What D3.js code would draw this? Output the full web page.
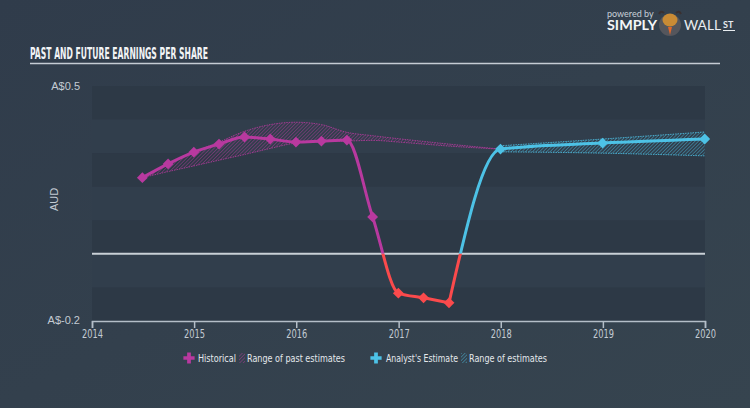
<!DOCTYPE html>
<html>
<head>
<meta charset="utf-8">
<script src="https://cdn.jsdelivr.net/npm/d3@7"></script>
<style>
  html, body { margin: 0; padding: 0; background: #333f4e; }
  svg { display: block; }
</style>
</head>
<body>
<div id="chart"></div>
<script>
// Data
const histDates = ["2014-06-30", "2014-09-30", "2014-12-31", "2015-03-31", "2015-06-30", "2015-09-30",
  "2015-12-31", "2016-03-31", "2016-06-30", "2016-09-30", "2016-12-31", "2017-03-31", "2017-06-30"];
const histEPS = [0.227, 0.268, 0.303, 0.327, 0.348, 0.342, 0.333, 0.336, 0.339, 0.110, -0.117, -0.131, -0.146];

const pastRangeDates = histDates.concat(["2017-12-31"]);
const pastLow = [0.227, 0.245, 0.262, 0.279, 0.296, 0.314, 0.330, 0.334, 0.336, 0.338, 0.333, 0.327, 0.321, 0.312];
const pastHigh = [0.227, 0.268, 0.303, 0.333, 0.365, 0.385, 0.392, 0.385, 0.362, 0.352, 0.343, 0.335, 0.327, 0.312];

const forecastDates = ["2017-12-31", "2018-12-31", "2019-12-31"];
const forecastEPS = [0.312, 0.330, 0.342];
const futureLow = [0.304, 0.300, 0.292];
const futureHigh = [0.322, 0.342, 0.363];

const yearTicks = [2014, 2015, 2016, 2017, 2018, 2019, 2020];
const bandSteps = [0.5, 0.4, 0.3, 0.2, 0.1, 0.0, -0.1];

const W = 750, H = 408;
const margin = { top: 86, right: 45, bottom: 87, left: 92 };
const width = W - margin.left - margin.right;
const height = H - margin.top - margin.bottom;

const parse = d3.timeParse("%Y-%m-%d");
const narrow = "'DejaVu Sans Condensed', 'Liberation Sans', sans-serif";

const magenta = "#b8399f", red = "#fb4a4c", blue = "#4dc2e6";

const svg = d3.select("#chart").append("svg")
  .attr("width", W).attr("height", H);

// background
const defs = svg.append("defs");
const bg = defs.append("linearGradient").attr("id", "bg")
  .attr("x1", "0").attr("y1", "0").attr("x2", "1").attr("y2", "1");
bg.append("stop").attr("offset", "0").attr("stop-color", "#303c4b");
bg.append("stop").attr("offset", "1").attr("stop-color", "#36444f");
svg.append("rect").attr("width", W).attr("height", H).attr("fill", "url(#bg)");

// hatch patterns
function hatch(id, color) {
  const p = defs.append("pattern").attr("id", id)
    .attr("patternUnits", "userSpaceOnUse")
    .attr("width", 2.5).attr("height", 2.5)
    .attr("patternTransform", "rotate(45)");
  p.append("line").attr("x1", 0).attr("y1", 0).attr("x2", 0).attr("y2", 2.5)
    .attr("stroke", color).attr("stroke-width", 1).attr("stroke-opacity", 0.8);
}
hatch("hatchPast", magenta);
hatch("hatchFuture", blue);

// title
svg.append("text")
  .attr("x", 30).attr("y", 59)
  .attr("textLength", 178).attr("lengthAdjust", "spacingAndGlyphs")
  .style("font-family", narrow).style("font-weight", "bold")
  .style("font-size", "16px").attr("fill", "#f2f4f6")
  .text("PAST AND FUTURE EARNINGS PER SHARE");
svg.append("line")
  .attr("x1", 30).attr("x2", 720).attr("y1", 63.5).attr("y2", 63.5)
  .attr("stroke", "#c5ccd4").attr("stroke-width", 1.5);

// logo
const logo = svg.append("g");
logo.append("text").attr("x", 607).attr("y", 17)
  .style("font-family", "Lato, sans-serif").style("font-size", "9px")
  .attr("fill", "#c8d0d8").text("powered by");
logo.append("text").attr("x", 607).attr("y", 30)
  .attr("textLength", 50).attr("lengthAdjust", "spacingAndGlyphs")
  .style("font-family", "Lato, sans-serif").style("font-size", "12.5px").style("font-weight", "bold")
  .attr("fill", "#f4f6f8").text("SIMPLY");
logo.append("circle").attr("cx", 670).attr("cy", 25).attr("r", 11).attr("fill", "#55565c");
logo.append("path").attr("d", "M659,14 Q661,10 664,13 M681,14 Q679,10 676,13")
  .attr("stroke", "#3a3030").attr("stroke-width", 2).attr("fill", "none");
logo.append("ellipse").attr("cx", 670).attr("cy", 20).attr("rx", 7.5).attr("ry", 6.5).attr("fill", "#c98b35");
logo.append("path").attr("d", "M668,27 L670,35 L672,27 Z").attr("fill", "#e0672a");
logo.append("text").attr("x", 684).attr("y", 30)
  .attr("textLength", 37).attr("lengthAdjust", "spacingAndGlyphs")
  .style("font-family", "Lato, sans-serif").style("font-size", "12.5px")
  .attr("fill", "#e8ecf0").text("WALL");
logo.append("text").attr("x", 723).attr("y", 28)
  .style("font-family", "Lato, sans-serif").style("font-size", "9px").style("font-weight", "bold")
  .attr("fill", "#e8ecf0").text("ST");
logo.append("line").attr("x1", 723).attr("x2", 735).attr("y1", 30.5).attr("y2", 30.5)
  .attr("stroke", "#e8ecf0").attr("stroke-width", 1);

const g = svg.append("g").attr("transform", `translate(${margin.left},${margin.top})`);

const x = d3.scaleTime()
  .domain([new Date(2014, 0, 1), new Date(2020, 0, 1)])
  .range([0, width]);
const y = d3.scaleLinear().domain([-0.2, 0.5]).range([height, 0]);

// bands
g.selectAll("rect.band")
  .data(bandSteps)
  .enter().append("rect")
    .attr("class", "band")
    .attr("x", 0).attr("width", width)
    .attr("y", d => y(d))
    .attr("height", d => y(d - 0.1) - y(d))
    .attr("fill", (d, i) => i % 2 === 0 ? "#2d3946" : "#313e4c");

// zero line
g.append("line")
  .attr("x1", 0).attr("x2", width)
  .attr("y1", y(0)).attr("y2", y(0))
  .attr("stroke", "#c9d0d6").attr("stroke-width", 2);

// clip regions above / below zero
defs.append("clipPath").attr("id", "above")
  .append("rect").attr("x", -10).attr("y", -30).attr("width", width + 20).attr("height", y(0) + 30);
defs.append("clipPath").attr("id", "below")
  .append("rect").attr("x", -10).attr("y", y(0)).attr("width", width + 20).attr("height", height - y(0) + 10);

// ranges
const pastRange = pastRangeDates.map((d, i) => ({ date: parse(d), lo: pastLow[i], hi: pastHigh[i] }));
const futureRange = forecastDates.map((d, i) => ({ date: parse(d), lo: futureLow[i], hi: futureHigh[i] }));

const area = d3.area()
  .x(d => x(d.date)).y0(d => y(d.lo)).y1(d => y(d.hi))
  .curve(d3.curveMonotoneX);
const edgeLo = d3.line().x(d => x(d.date)).y(d => y(d.lo)).curve(d3.curveMonotoneX);
const edgeHi = d3.line().x(d => x(d.date)).y(d => y(d.hi)).curve(d3.curveMonotoneX);

[[pastRange, "hatchPast", magenta], [futureRange, "hatchFuture", blue]].forEach(([data, pat, col]) => {
  g.append("path").datum(data).attr("d", area).attr("fill", `url(#${pat})`);
  [edgeLo, edgeHi].forEach(fn => {
    g.append("path").datum(data).attr("d", fn)
      .attr("fill", "none").attr("stroke", col)
      .attr("stroke-width", 1).attr("stroke-dasharray", "1.5,1").attr("stroke-opacity", 0.8);
  });
});

// lines
const hist = histDates.map((d, i) => ({ date: parse(d), v: histEPS[i] }));
const fc = [hist[hist.length - 1]].concat(forecastDates.map((d, i) => ({ date: parse(d), v: forecastEPS[i] })));

const line = d3.line().x(d => x(d.date)).y(d => y(d.v)).curve(d3.curveMonotoneX);

function drawLine(data, colAbove) {
  g.append("path").datum(data).attr("d", line)
    .attr("fill", "none").attr("stroke", colAbove).attr("stroke-width", 3)
    .attr("clip-path", "url(#above)");
  g.append("path").datum(data).attr("d", line)
    .attr("fill", "none").attr("stroke", red).attr("stroke-width", 3)
    .attr("clip-path", "url(#below)");
}
drawLine(hist, magenta);
drawLine(fc, blue);

const diamond = d3.symbol().type(d3.symbolDiamond2).size(75);
g.selectAll("path.hpt")
  .data(hist)
  .enter().append("path")
    .attr("class", "hpt")
    .attr("d", diamond)
    .attr("transform", d => `translate(${x(d.date)},${y(d.v)})`)
    .attr("fill", d => d.v < 0 ? red : magenta);
g.selectAll("path.fpt")
  .data(fc.slice(1))
  .enter().append("path")
    .attr("class", "fpt")
    .attr("d", diamond)
    .attr("transform", d => `translate(${x(d.date)},${y(d.v)})`)
    .attr("fill", blue);

// x-axis
const xAxis = g.append("g")
  .attr("transform", `translate(0,${height})`)
  .call(d3.axisBottom(x)
    .tickValues(yearTicks.map(t => new Date(t, 0, 1)))
    .tickFormat(d3.timeFormat("%Y"))
    .tickSize(7));
xAxis.select(".domain").attr("stroke", "#b4bec8").attr("stroke-width", 1.5);
xAxis.selectAll(".tick line").attr("stroke", "#b4bec8").attr("stroke-width", 1.5);
xAxis.selectAll(".tick text")
  .attr("y", 8)
  .attr("textLength", 21).attr("lengthAdjust", "spacingAndGlyphs")
  .style("font-family", narrow).style("font-size", "12px")
  .attr("fill", "#c3cbd3");

// y labels
g.append("text").attr("x", -12).attr("y", y(0.5)).attr("dy", "0.35em")
  .attr("text-anchor", "end")
  .style("font-family", "'Liberation Sans', Arial, sans-serif").style("font-size", "11px")
  .attr("fill", "#c3cbd3").text("A$0.5");
g.append("text").attr("x", -12).attr("y", y(-0.2) - 1).attr("dy", "0.35em")
  .attr("text-anchor", "end")
  .style("font-family", "'Liberation Sans', Arial, sans-serif").style("font-size", "11px")
  .attr("fill", "#c3cbd3").text("A$-0.2");
g.append("text")
  .attr("transform", `translate(-34,${height / 2 - 4}) rotate(-90)`)
  .attr("text-anchor", "middle")
  .style("font-family", "'Liberation Sans', Arial, sans-serif").style("font-size", "11px")
  .attr("fill", "#c3cbd3").text("AUD");

// legend
const legend = svg.append("g").attr("transform", "translate(0,358)");
const cross = d3.symbol().type(d3.symbolCross).size(70);
const legendItems = [
  { x: 189, type: "marker", color: magenta },
  { x: 198, type: "text", label: "Historical", w: 38 },
  { x: 239, type: "hatch", pat: "hatchPast" },
  { x: 247, type: "text", label: "Range of past estimates", w: 98 },
  { x: 376, type: "marker", color: blue },
  { x: 386, type: "text", label: "Analyst's Estimate", w: 72 },
  { x: 461, type: "hatch", pat: "hatchFuture" },
  { x: 469, type: "text", label: "Range of estimates", w: 78 }
];
legendItems.forEach(it => {
  if (it.type === "marker") {
    legend.append("path").attr("d", cross)
      .attr("transform", `translate(${it.x},0)`).attr("fill", it.color);
  } else if (it.type === "hatch") {
    legend.append("rect").attr("x", it.x).attr("y", -5).attr("width", 6).attr("height", 10)
      .attr("fill", `url(#${it.pat})`);
  } else {
    legend.append("text").attr("x", it.x).attr("y", 0).attr("dy", "0.35em")
      .attr("textLength", it.w).attr("lengthAdjust", "spacingAndGlyphs")
      .style("font-family", narrow).style("font-size", "11px")
      .attr("fill", "#e4e8ec").text(it.label);
  }
});
</script>
</body>
</html>
